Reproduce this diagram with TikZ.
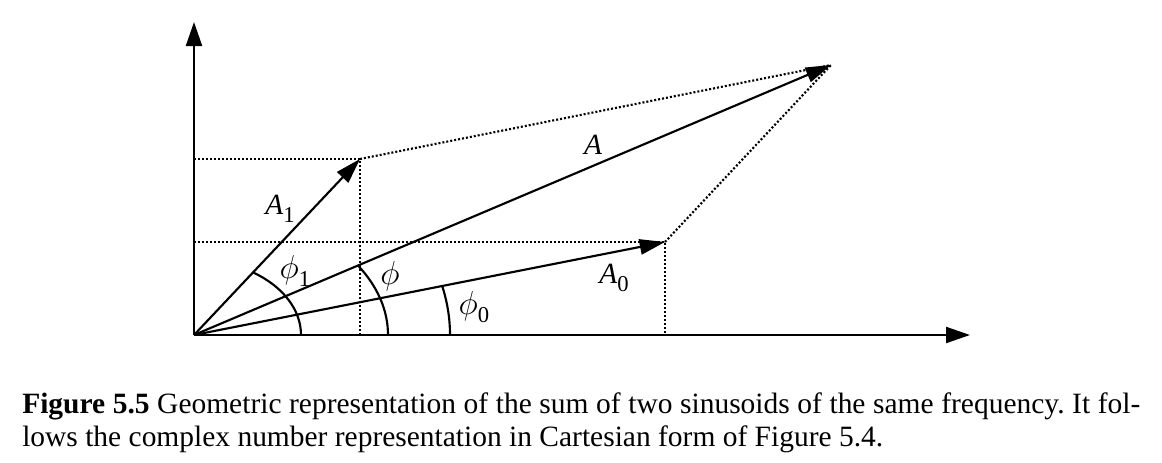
\documentclass[tikz,border=0pt]{standalone}
\usepackage{fontspec}
\setmainfont{Liberation Serif}
\usetikzlibrary{arrows.meta}
\newcommand\lsub[1]{\raisebox{-6pt}{\upshape\fontsize{17}{17}\selectfont #1}}
\newcommand\bigphi{{\fontsize{27}{27}\selectfont$\phi$}}
\frenchspacing
\begin{document}
\begin{tikzpicture}[x=0.75pt,y=0.75pt,
  ax/.style={line width=1.6pt,-{Triangle[length=18pt,width=12pt]}},
  vec/.style={line width=1.6pt,-{Triangle[length=19pt,width=11.5pt]}},
  dots/.style={line width=1.6pt,dash pattern=on 1.5pt off 1.5pt},
  ang/.style={line width=1.6pt},
  lab/.style={font=\fontsize{22}{25}\selectfont\itshape, inner sep=0pt},
  captext/.style={font=\fontsize{22.1}{27}\selectfont, inner sep=0pt, anchor=base west}]
\useasboundingbox (0,0) rectangle (1162,462);
\coordinate (O) at (194,127);
\coordinate (Y) at (194,440);
\coordinate (X) at (970,127);
\coordinate (P1) at (360,303);
\coordinate (P0) at (665,220);
\coordinate (P) at (831,397);
\coordinate (Y1) at (194,303);
\coordinate (X1) at (360,127);
\coordinate (Y0) at (194,220);
\coordinate (X0) at (665,127);
% dotted construction lines
\draw[dots] (Y1) -- (P1) -- (X1);
\draw[dots] (Y0) -- (P0) -- (X0);
\draw[dots] (P1) -- (P);
\draw[dots] (P0) -- (P);
% axes
\draw[ax] (O) -- (Y);
\draw[ax] (O) -- (X);
% vectors
\draw[vec] (O) -- (P1);
\draw[vec] (O) -- (P0);
\draw[vec] (O) -- (P);
% angle arcs
\draw[ang] (O) ++(107,0) arc[start angle=0,end angle=56.5,x radius=107,y radius=75];
\draw[ang] (O) ++(194,0) arc[start angle=0,end angle=32.3,x radius=194,y radius=130];
\draw[ang] (O) ++(256,0) arc[start angle=0,end angle=14.2,x radius=256,y radius=200];
% labels
\node[lab] (lA) at (593,317) {A};
\node[lab] (lA1) at (280,253) {A\lsub{1}};
\node[lab] (lA0) at (614,184) {A\lsub{0}};
\node[lab] (lf1) at (295,191) {\bigphi\lsub{1}};
\node[lab] (lf) at (390,186) {\bigphi};
\node[lab] (lf0) at (474,155) {\bigphi\lsub{0}};
% caption
\node[captext] (c1) at (22,49) {\makebox[838.5pt][s]{\textbf{Figure 5.5} Geometric representation of the sum of two sinusoids of the same frequency. It fol-}};
\node[captext] (c2) at (22,16) {lows the complex number representation in Cartesian form of Figure 5.4.};
\end{tikzpicture}
\end{document}
